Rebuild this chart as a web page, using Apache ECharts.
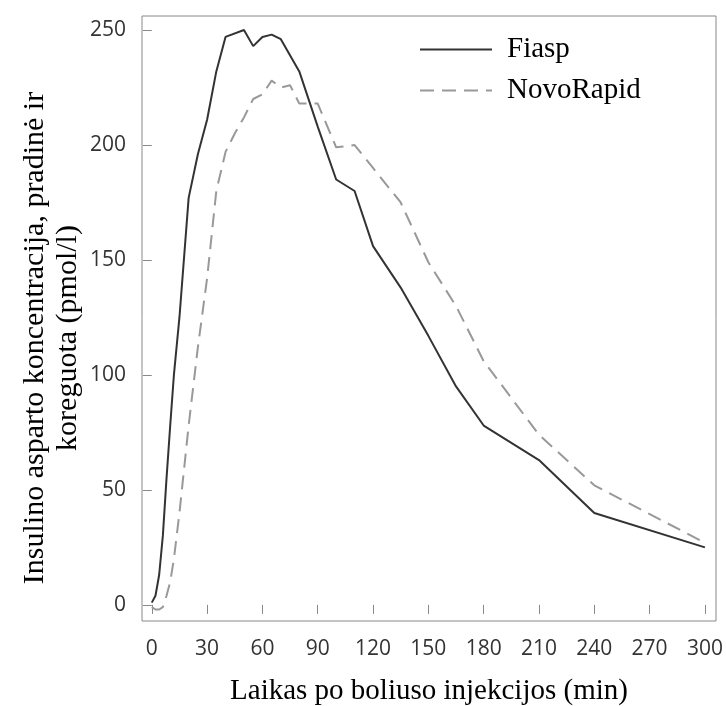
<!DOCTYPE html>
<html>
<head>
<meta charset="utf-8">
<script src="https://cdn.jsdelivr.net/npm/echarts@6/dist/echarts.min.js"></script>
<style>html,body{margin:0;padding:0;background:#fff}#c{width:726px;height:706px}</style>
</head>
<body>
<div id="c"></div>
<script>
const fiaspTime = [0, 2, 4, 6, 8, 10, 12, 15, 20, 25, 30, 35, 40, 50, 55, 60, 65, 70, 80, 90, 100, 110, 120, 135, 150, 165, 180, 210, 240, 300];
const fiaspConc = [1, 4, 13, 30, 55, 78, 100, 125, 177, 196, 211, 232, 247, 250, 243, 247, 248, 246, 232, 208, 185, 180, 156, 138, 117, 95, 78, 63, 40, 25];
const novoTime = [0, 2, 4, 6, 8, 10, 12, 15, 20, 25, 30, 35, 40, 45, 50, 55, 60, 65, 70, 75, 80, 90, 100, 110, 120, 135, 150, 165, 180, 210, 240, 300];
const novoConc = [-1, -2, -2, -1, 4, 10, 20, 40, 78, 112, 142, 180, 197, 205, 212, 220, 222, 228, 225, 226, 218, 218, 199, 200, 190, 175, 149, 130, 106, 74, 52, 27];
const xTicks = [0, 30, 60, 90, 120, 150, 180, 210, 240, 270, 300];
const yTicks = [0, 50, 100, 150, 200, 250];
const seriesNames = ['Fiasp', 'NovoRapid'];
const xTitle = 'Laikas po boliuso injekcijos (min)';
const yTitle = 'Insulino asparto koncentracija, pradinė ir\nkoreguota (pmol/l)';

const pairs = (t, v) => t.map((x, i) => [x, v[i]]);
const chart = echarts.init(document.getElementById('c'));
const tickFont = { fontFamily: 'Open Sans', fontSize: 21, color: '#333' };
chart.setOption({
  animation: false,
  grid: { left: 142, top: 16, right: 10, bottom: 85, outerBoundsMode: 'none', containLabel: false,
    show: true, borderColor: '#888', borderWidth: 1, backgroundColor: '#fff' },
  legend: {
    orient: 'vertical', left: 414, top: 30, itemWidth: 72, itemHeight: 14, itemGap: 12,
    data: seriesNames,
    itemStyle: { opacity: 0 },
    textStyle: { fontFamily: 'Liberation Serif', fontSize: 29, color: '#000', padding: [0, 0, 0, 10] }
  },
  graphic: [{
    type: 'text', rotation: Math.PI / 2,
    x: 52, y: 338,
    style: { text: yTitle, fontFamily: 'Liberation Serif', fontSize: 30, lineHeight: 33, fill: '#000', align: 'center', verticalAlign: 'middle' }
  }],
  xAxis: {
    type: 'value', min: -5.3, max: 306,
    splitLine: { show: false },
    axisLine: { show: false },
    axisTick: { show: true, length: 9, customValues: xTicks, lineStyle: { color: '#888' } },
    axisLabel: { customValues: xTicks, margin: 18, ...tickFont },
    name: xTitle, nameLocation: 'middle', nameGap: 56,
    nameTextStyle: { fontFamily: 'Liberation Serif', fontSize: 29, color: '#000' }
  },
  yAxis: {
    type: 'value', min: -7, max: 256.1,
    splitLine: { show: false },
    axisLine: { show: false },
    axisTick: { show: true, length: 9, customValues: yTicks, lineStyle: { color: '#888' } },
    axisLabel: { customValues: yTicks, margin: 16, ...tickFont }
  },
  series: [
    { name: seriesNames[0], type: 'line', data: pairs(fiaspTime, fiaspConc), symbol: 'none',
      lineStyle: { color: '#333', width: 2 }, itemStyle: { color: '#333' } },
    { name: seriesNames[1], type: 'line', data: pairs(novoTime, novoConc), symbol: 'none',
      lineStyle: { color: '#999', width: 2, type: [14, 8] }, itemStyle: { color: '#999' } }
  ]
});
</script>
</body>
</html>
